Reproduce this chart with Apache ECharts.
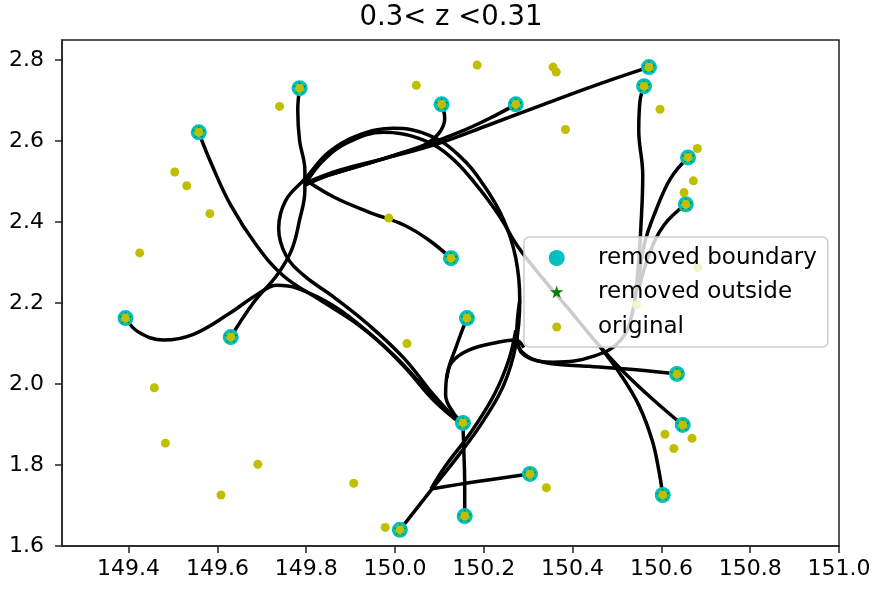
<!DOCTYPE html>
<html><head><meta charset="utf-8">
<script src="https://cdn.jsdelivr.net/npm/echarts@6/dist/echarts.min.js"></script>
<style>html,body{margin:0;padding:0;background:#fff}#c{width:874px;height:589px}</style>
</head><body><div id="c"></div>
<script>
const titleText = '0.3< z <0.31';
const xTicks = [149.4, 149.6, 149.8, 150.0, 150.2, 150.4, 150.6, 150.8, 151.0];
const yTicks = [1.6, 1.8, 2.0, 2.2, 2.4, 2.6, 2.8];

// boundary points (also drawn as "removed outside" and "original")
const boundaryX = [149.393,149.630,149.558,149.785,150.105,150.272,150.126,150.162,150.572,150.561,150.660,150.655,150.635,150.648,150.603,150.153,150.304,150.157,150.011];
const boundaryY = [2.163,2.116,2.622,2.731,2.691,2.691,2.311,2.163,2.783,2.736,2.560,2.444,2.025,1.899,1.726,1.904,1.778,1.674,1.640];

// other original points
const otherX = [149.740,149.504,149.531,149.583,149.425,150.185,150.048,150.356,150.363,150.384,149.986,150.597,150.681,150.672,150.651,150.682,150.544,150.027,149.458,149.483,149.691,149.608,149.907,150.341,149.978,150.608,150.628,150.669];
const otherY = [2.686,2.524,2.490,2.421,2.324,2.788,2.738,2.783,2.771,2.629,2.410,2.679,2.582,2.502,2.473,2.288,2.196,2.100,1.991,1.854,1.802,1.726,1.755,1.744,1.646,1.876,1.841,1.866];

// bundled paths
const path1 = [[149.558,2.622],[149.585,2.548],[149.630,2.442],[149.688,2.343],[149.749,2.267],[149.828,2.210],[149.918,2.146],[149.997,2.072],[150.065,1.993],[150.121,1.931],[150.153,1.904]];
const path2 = [[149.393,2.163],[149.423,2.128],[149.479,2.109],[149.546,2.123],[149.625,2.173],[149.688,2.220],[149.734,2.244],[149.779,2.237],[149.862,2.193],[149.945,2.123],[150.020,2.044],[150.087,1.960],[150.144,1.906]];
const path3 = [[149.785,2.731],[149.781,2.677],[149.785,2.602],[149.797,2.528],[149.797,2.479],[149.785,2.405],[149.767,2.331],[149.734,2.269],[149.682,2.202],[149.630,2.116]];
const path4 = [[149.797,2.496],[149.873,2.528],[149.986,2.560],[150.099,2.595],[150.211,2.640],[150.335,2.691],[150.459,2.741],[150.572,2.783]];
const path5 = [[150.272,2.691],[150.223,2.662],[150.155,2.627],[150.054,2.585],[149.941,2.546],[149.851,2.516],[149.797,2.491]];
const path6 = [[150.105,2.691],[150.112,2.657],[150.099,2.620],[150.065,2.590],[150.008,2.568],[149.918,2.538],[149.828,2.509]];
const path7 = [[149.799,2.504],[149.862,2.462],[149.941,2.425],[150.020,2.393],[150.076,2.356],[150.126,2.311]];
const path8 = [[150.011,1.640],[150.087,1.746],[150.144,1.825],[150.200,1.911],[150.245,1.998],[150.272,2.096],[150.281,2.207],[150.272,2.311],[150.245,2.405],[150.200,2.491],[150.144,2.565],[150.076,2.615],[149.997,2.632],[149.918,2.615],[149.851,2.573],[149.799,2.509],[149.754,2.454],[149.738,2.385],[149.754,2.319],[149.794,2.269],[149.862,2.215],[149.941,2.146],[150.020,2.064],[150.087,1.973],[150.139,1.911]];
const path9 = [[149.799,2.496],[149.839,2.553],[149.896,2.598],[149.975,2.622],[150.054,2.607],[150.121,2.565],[150.184,2.491],[150.234,2.417],[150.279,2.336],[150.342,2.249],[150.403,2.170],[150.459,2.096],[150.515,2.030],[150.583,1.960],[150.648,1.899]];
const path10 = [[150.459,2.096],[150.509,2.022],[150.549,1.948],[150.579,1.862],[150.594,1.788],[150.603,1.726]];
const path11 = [[150.281,2.207],[150.274,2.121],[150.290,2.072],[150.358,2.054],[150.448,2.069],[150.509,2.109],[150.536,2.183],[150.547,2.281],[150.554,2.393],[150.558,2.516],[150.549,2.627],[150.552,2.701],[150.561,2.736]];
const path12 = [[150.547,2.232],[150.561,2.343],[150.588,2.430],[150.621,2.509],[150.660,2.560]];
const path13 = [[150.549,2.232],[150.572,2.319],[150.606,2.393],[150.655,2.444]];
const path14 = [[150.274,2.121],[150.286,2.079],[150.335,2.054],[150.437,2.044],[150.549,2.035],[150.635,2.025]];
const path15 = [[150.304,1.778],[150.189,1.760],[150.081,1.741]];
const path16 = [[150.081,1.741],[150.114,1.798],[150.171,1.881],[150.223,1.973],[150.256,2.059],[150.272,2.133]];
const path17 = [[150.162,2.163],[150.139,2.096],[150.117,2.022],[150.114,1.973],[150.132,1.928],[150.153,1.904]];
const path18 = [[150.117,2.015],[150.128,2.054],[150.166,2.084],[150.234,2.104],[150.272,2.109],[150.290,2.090]];
const path19 = [[150.153,1.904],[150.155,1.837],[150.157,1.751],[150.157,1.674]];

const paths = [path1,path2,path3,path4,path5,path6,path7,path8,path9,path10,path11,path12,path13,path14,path15,path16,path17,path18,path19];

const boundaryPts = boundaryX.map((x, i) => [x, boundaryY[i]]);
const originalPts = boundaryPts.concat(otherX.map((x, i) => [x, otherY[i]]));

const STAR = 'path://M-1 -1 M1 1 M0 -1 L0.2245 -0.309 L0.9511 -0.309 L0.3633 0.118 L0.5878 0.809 L0 0.382 L-0.5878 0.809 L-0.3633 0.118 L-0.9511 -0.309 L-0.2245 -0.309 Z';
const LEG_CIRCLE = 'path://M0 0 M61 20 M16.7 10 A8 8 0 1 0 32.7 10 A8 8 0 1 0 16.7 10 Z';
const LEG_STAR = 'path://M0 0 M61 20 M24.7 3 L26.27 7.84 L31.36 7.84 L27.24 10.83 L28.81 15.66 L24.7 12.67 L20.59 15.66 L22.16 10.83 L18.04 7.84 L23.13 7.84 Z';
const LEG_DOT = 'path://M0 0 M61 20 M20.2 10 A4.5 4.5 0 1 0 29.2 10 A4.5 4.5 0 1 0 20.2 10 Z';

const FONT = 'DejaVu Sans';
const chart = echarts.init(document.getElementById('c'), null, {renderer: 'canvas'});

const series = paths.map(p => ({
  type: 'line', data: p, smooth: 0.4, showSymbol: false, symbol: 'none', silent: true, z: 2,
  lineStyle: {color: '#000', width: 3.5}
}));
series.push({name: 'removed boundary', type: 'scatter', data: boundaryPts, symbol: 'circle', symbolSize: 16, itemStyle: {color: '#00bfbf', opacity: 1}, z: 3});
series.push({name: 'removed outside', type: 'scatter', data: boundaryPts, symbol: STAR, symbolKeepAspect: true, symbolSize: 14, itemStyle: {color: '#008000', opacity: 1}, z: 4});
series.push({name: 'original', type: 'scatter', data: originalPts, symbol: 'circle', symbolSize: 9, itemStyle: {color: '#bfbf00', opacity: 1}, z: 5});

chart.setOption({
  animation: false,
  backgroundColor: '#fff',
  title: {text: titleText, left: 446, textAlign: 'center', top: -1, textStyle: {fontFamily: FONT, fontSize: 27.5, fontWeight: 'normal', color: '#000'}},
  grid: {left: 62, right: 35, top: 40, bottom: 43, show: true, borderColor: '#222', borderWidth: 1.5, backgroundColor: 'transparent'},
  xAxis: {
    type: 'value', min: 149.25, max: 151.0,
    axisLine: {show: true, onZero: false, lineStyle: {color: '#222', width: 1.5}},
    axisTick: {show: true, length: 7, lineStyle: {color: '#222', width: 1.5}, customValues: xTicks},
    axisLabel: {customValues: xTicks, formatter: v => v.toFixed(1), margin: 12, fontFamily: FONT, fontSize: 22, color: '#000'},
    splitLine: {show: false}
  },
  yAxis: {
    type: 'value', min: 1.6, max: 2.85,
    axisLine: {show: true, onZero: false, lineStyle: {color: '#222', width: 1.5}},
    axisTick: {show: true, length: 7, lineStyle: {color: '#222', width: 1.5}, customValues: yTicks},
    axisLabel: {customValues: yTicks, formatter: v => v.toFixed(1), margin: 18, fontFamily: FONT, fontSize: 22, color: '#000'},
    splitLine: {show: false}
  },
  legend: {
    orient: 'vertical', left: 524, top: 237, padding: [9.5, 11, 8.5, 8], itemGap: 11.5,
    itemWidth: 61, itemHeight: 20, z: 10,
    backgroundColor: 'rgba(255,255,255,0.8)', borderColor: '#cccccc', borderWidth: 1.5, borderRadius: 5,
    textStyle: {fontFamily: FONT, fontSize: 23, color: '#000', lineHeight: 23},
    data: [
      {name: 'removed boundary', icon: LEG_CIRCLE},
      {name: 'removed outside', icon: LEG_STAR},
      {name: 'original', icon: LEG_DOT}
    ]
  },
  series: series
});
</script></body></html>
